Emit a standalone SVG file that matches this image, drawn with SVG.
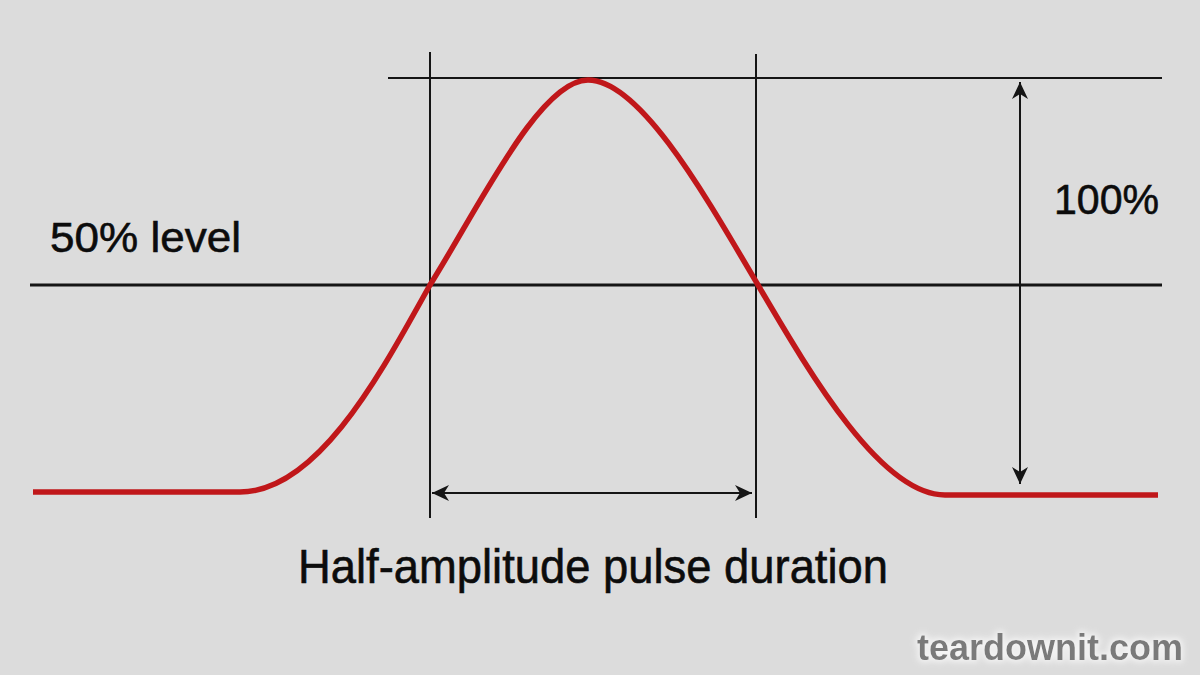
<svg xmlns="http://www.w3.org/2000/svg" width="1200" height="675" viewBox="0 0 1200 675">
<defs>
<style>
.ln{stroke:#151515;fill:none}
.t{font-family:"Liberation Sans",Arial,sans-serif;fill:#0c0c0c;stroke:#0c0c0c;stroke-width:0.6}
</style>
<marker id="ah" viewBox="-18 -9 20 18" markerWidth="20" markerHeight="18" refX="0" refY="0" orient="auto-start-reverse" markerUnits="userSpaceOnUse">
<path d="M0,0 L-17,-8 L-12,0 L-17,8 Z" fill="#151515"/>
</marker>
<filter id="glow" x="-10%" y="-30%" width="120%" height="160%">
<feMorphology in="SourceAlpha" operator="dilate" radius="2" result="d"/>
<feGaussianBlur in="d" stdDeviation="3" result="b"/>
<feFlood flood-color="#f4f4f4"/>
<feComposite in2="b" operator="in" result="g"/>
<feMerge><feMergeNode in="g"/><feMergeNode in="SourceGraphic"/></feMerge>
</filter>
</defs>
<rect width="1200" height="675" fill="#dcdcdc"/>
<g id="guides">
<line class="ln" x1="388" y1="78" x2="1162" y2="78" stroke-width="2"/>
<line class="ln" x1="430" y1="52" x2="430" y2="518" stroke-width="2"/>
<line class="ln" x1="756" y1="54" x2="756" y2="518" stroke-width="2"/>
<line class="ln" x1="30" y1="285" x2="1162" y2="285" stroke-width="3"/>
</g>
<g id="pulse">
<path d="M33,492 L240,492 C320,492 385,365 430,285 C480,205 540,80 588,80 C640,80 705,195 758,285 C808,370 880,495 945,495 L1158,495" fill="none" stroke="#c0171a" stroke-width="5.5"/>
</g>
<g id="connectors">
<line class="ln" x1="432" y1="493" x2="752" y2="493" stroke-width="2" marker-start="url(#ah)" marker-end="url(#ah)"/>
<line class="ln" x1="1020" y1="82" x2="1020" y2="484" stroke-width="2" marker-start="url(#ah)" marker-end="url(#ah)"/>
</g>
<g id="labels">
<text class="t" x="50" y="252" font-size="43" textLength="191" lengthAdjust="spacingAndGlyphs">50% level</text>
<text class="t" x="1054" y="214" font-size="43" textLength="105" lengthAdjust="spacingAndGlyphs">100%</text>
<text class="t" x="298" y="583" font-size="49" textLength="590" lengthAdjust="spacingAndGlyphs">Half-amplitude pulse duration</text>
</g>
<g id="watermark">
<text x="1183" y="660" font-size="36" font-weight="bold" text-anchor="end" font-family="'Liberation Sans',Arial,sans-serif" fill="#7a7a7a" filter="url(#glow)">teardownit.com</text>
</g>
</svg>
